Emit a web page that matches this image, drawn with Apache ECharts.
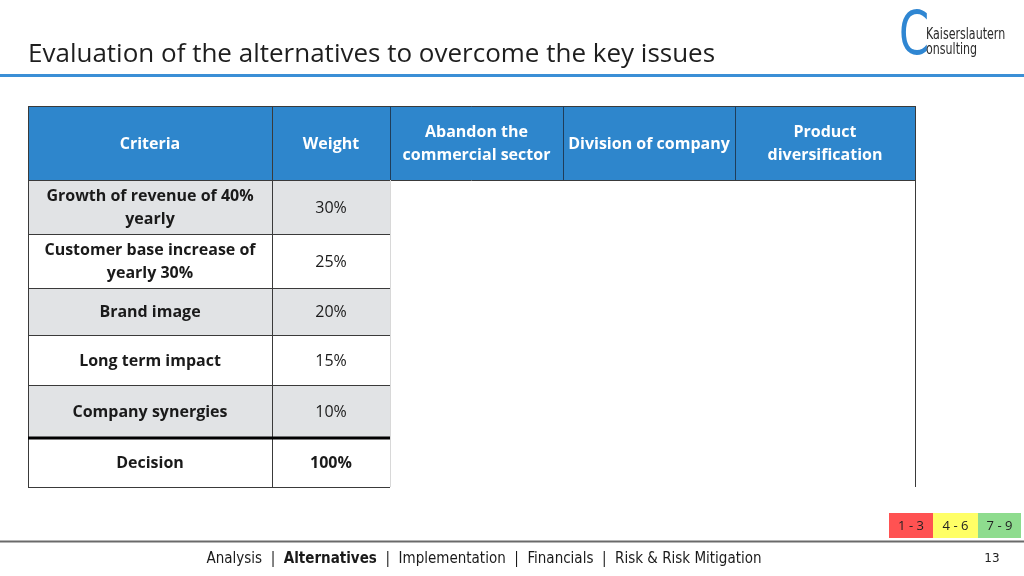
<!DOCTYPE html>
<html>
<head>
<meta charset="utf-8">
<script src="https://cdn.jsdelivr.net/npm/echarts@6/dist/echarts.min.js"></script>
<style>html,body{margin:0;padding:0;background:#fff}#c{width:1024px;height:576px}</style>
</head>
<body>
<div id="c"></div>
<script>
// ---- data ----
var title = 'Evaluation of the alternatives to overcome the key issues';
var headers = ['Criteria', 'Weight', 'Abandon the\ncommercial sector', 'Division of company', 'Product\ndiversification'];
var criteria = ['Growth of revenue of 40%\nyearly', 'Customer base increase of\nyearly 30%', 'Brand image', 'Long term impact', 'Company synergies'];
var weights = ['30%', '25%', '20%', '15%', '10%'];
var totalLabel = 'Decision';
var totalWeight = '100%';
var scaleLabels = ['1 - 3', '4 - 6', '7 - 9'];
var navItems = ['Analysis', 'Alternatives', 'Implementation', 'Financials', 'Risk & Risk Mitigation'];
var activeNav = 'Alternatives';
var pageNumber = '13';

// ---- layout ----
var colEdges = [28, 272, 390, 563, 735, 915];
var headTop = 106, headBottom = 180;
var rowEdges = [180, 234, 288, 335, 385, 438, 487];
var rowFill = ['#e1e3e5', '#ffffff', '#e1e3e5', '#ffffff', '#e1e3e5', '#ffffff'];
var headBlue = '#2e86cc';
var lineCol = '#3a3a3a';
var font = '"Open Sans", Lato, sans-serif';
var scaleColors = ['#ff5252', '#ffff66', '#8edc8e'];
var scaleEdges = [889, 933, 978, 1021];

var g = [];
function rect(x, y, w, h, fill, z) { g.push({type: 'rect', shape: {x: x, y: y, width: w, height: h}, style: {fill: fill}, z: z || 1, silent: true}); }
function line(x1, y1, x2, y2, col, w) { g.push({type: 'line', shape: {x1: x1, y1: y1, x2: x2, y2: y2}, style: {stroke: col, lineWidth: w || 1}, z: 5, silent: true}); }
function text(x, y, t, opt, extra) {
  var el = {type: 'text', x: x, y: y, z: 10, silent: true, style: Object.assign({text: t, align: 'center', verticalAlign: 'middle', fontFamily: font, fontSize: 16, fill: '#1a1a1a', lineHeight: 23}, opt || {})};
  if (extra) Object.assign(el, extra);
  g.push(el);
}

// title + rule
text(28, 55, title, {align: 'left', fontSize: 26, fill: '#1e1e1e'});
line(0, 75.5, 1024, 75.5, '#3b8fd6', 3);

// logo
text(914, 38, 'C', {fontFamily: '"DejaVu Sans", sans-serif', fontSize: 60, fill: '#2f86d2'}, {scaleX: 0.72});
text(926, 35, 'Kaiserslautern', {align: 'left', fontFamily: '"DejaVu Sans Condensed", sans-serif', fontSize: 15, fill: '#2a2a2a'}, {scaleX: 0.82});
text(926, 50, 'onsulting', {align: 'left', fontFamily: '"DejaVu Sans Condensed", sans-serif', fontSize: 15, fill: '#2a2a2a'}, {scaleX: 0.82});

// header
rect(colEdges[0], headTop, colEdges[5] - colEdges[0], headBottom - headTop, headBlue);
headers.forEach(function (h, i) {
  text((colEdges[i] + colEdges[i + 1]) / 2, (headTop + headBottom) / 2 + 1, h, {fill: '#ffffff', fontWeight: 'bold'});
});

// body rows
criteria.concat([totalLabel]).forEach(function (c, r) {
  var y0 = rowEdges[r], y1 = rowEdges[r + 1];
  rect(colEdges[0], y0, colEdges[2] - colEdges[0], y1 - y0, rowFill[r]);
  var cy = (y0 + y1) / 2 + 1;
  text((colEdges[0] + colEdges[1]) / 2, cy, c, {fontWeight: 'bold'});
  var w = r < weights.length ? weights[r] : totalWeight;
  text((colEdges[1] + colEdges[2]) / 2, cy, w, {fontWeight: r < weights.length ? 'normal' : 'bold'});
});

// grid lines
line(colEdges[0], headTop + 0.5, colEdges[5], headTop + 0.5, lineCol, 1);
line(colEdges[0], headBottom + 0.5, colEdges[5], headBottom + 0.5, lineCol, 1);
for (var i = 1; i < 5; i++) line(colEdges[i] + 0.5, headTop, colEdges[i] + 0.5, headBottom, '#1f3d5a', 1);
line(colEdges[0] + 0.5, headTop, colEdges[0] + 0.5, rowEdges[6], lineCol, 1);
line(colEdges[1] + 0.5, headTop, colEdges[1] + 0.5, rowEdges[6], lineCol, 1);
line(colEdges[2] + 0.5, headBottom, colEdges[2] + 0.5, rowEdges[6], '#d8d8d8', 1);
line(colEdges[5] + 0.5, headTop, colEdges[5] + 0.5, rowEdges[6], lineCol, 1);
for (var r = 1; r < rowEdges.length; r++) {
  if (r === 5) line(colEdges[0], rowEdges[r], colEdges[2], rowEdges[r], '#000000', 3);
  else line(colEdges[0], rowEdges[r] + 0.5, colEdges[2], rowEdges[r] + 0.5, lineCol, 1);
}

// scale legend
scaleLabels.forEach(function (s, i) {
  rect(scaleEdges[i], 513, scaleEdges[i + 1] - scaleEdges[i], 25, scaleColors[i]);
  text((scaleEdges[i] + scaleEdges[i + 1]) / 2, 526, s, {fontFamily: '"Open Sans", sans-serif', fontSize: 13, fill: '#222'});
});

// footer
line(0, 541.5, 1024, 541.5, '#6a6a6a', 2);
var parts = [];
navItems.forEach(function (n, i) {
  if (i) parts.push('{n|  |  }');
  parts.push(n === activeNav ? '{b|' + n + '}' : '{n|' + n + '}');
});
g.push({type: 'text', x: 484, y: 559, z: 10, silent: true, style: {
  text: parts.join(''), align: 'center', verticalAlign: 'middle',
  rich: {
    n: {fontFamily: '"DejaVu Sans Condensed", sans-serif', fontSize: 15, fill: '#1a1a1a'},
    b: {fontFamily: '"DejaVu Sans Condensed", sans-serif', fontSize: 15, fontWeight: 'bold', fill: '#1a1a1a'}
  }
}});
text(992, 559, pageNumber, {fontFamily: '"DejaVu Sans", sans-serif', fontSize: 12, fill: '#222'});

var chart = echarts.init(document.getElementById('c'), null, {renderer: 'canvas'});
chart.setOption({backgroundColor: '#ffffff', animation: false, graphic: {elements: g}});
</script>
</body>
</html>
